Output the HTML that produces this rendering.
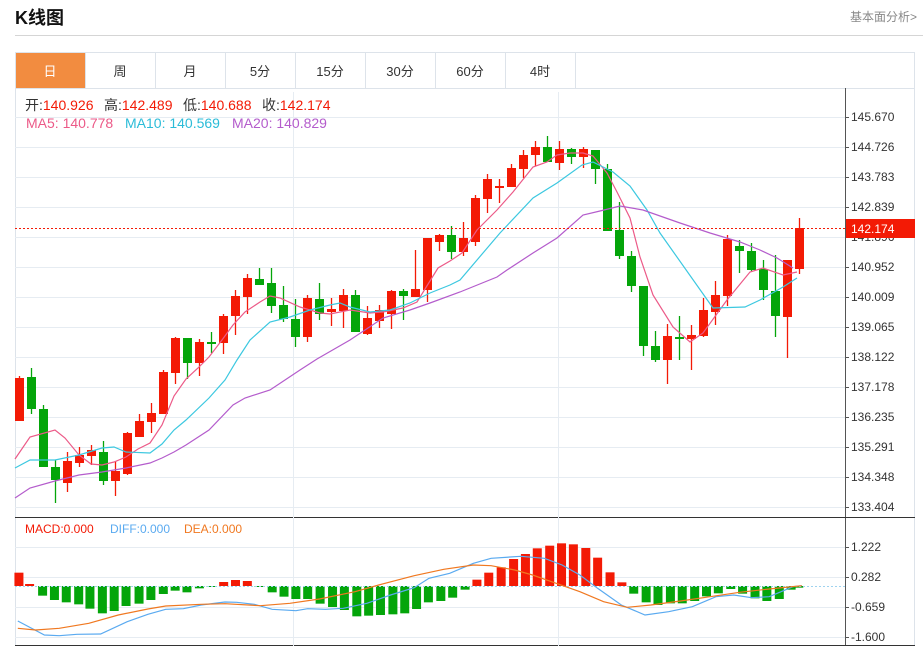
<!DOCTYPE html>
<html><head><meta charset="utf-8">
<style>
body{margin:0;background:#fff;font-family:"Liberation Sans","Noto Sans CJK SC",sans-serif;}
#w{position:relative;width:923px;height:648px;overflow:hidden;}
.t{position:absolute;white-space:nowrap;}
</style></head><body><div id="w">
<div class="t" style="left:15px;top:4px;font-size:18px;font-weight:bold;color:#111;">K线图</div>
<div class="t" style="right:6px;top:8px;font-size:12px;color:#888;">基本面分析&gt;</div>
<div style="position:absolute;left:15px;top:35px;width:908px;height:1px;background:#d5d5d5"></div>
<svg id="s" width="923" height="648" style="position:absolute;left:0;top:0"></svg>
</div>
<script>
var S=document.getElementById('s'),h='';
function L(x1,y1,x2,y2,c,w,d){h+='<line x1="'+x1+'" y1="'+y1+'" x2="'+x2+'" y2="'+y2+'" stroke="'+c+'" stroke-width="'+(w||1)+'"'+(d?' stroke-dasharray="'+d+'"':'')+'/>';}
function R(x,y,w,hh,c){h+='<rect x="'+x+'" y="'+y+'" width="'+w+'" height="'+hh+'" fill="'+c+'"/>';}
function T(x,y,s,c,sz,a){h+='<text x="'+x+'" y="'+y+'" fill="'+c+'" font-size="'+(sz||12)+'"'+(a?' text-anchor="'+a+'"':'')+'>'+s+'</text>';}
function P(pts,c,w){h+='<polyline fill="none" stroke="'+c+'" stroke-width="'+(w||1.2)+'" points="'+pts.map(function(p){return p[0]+','+p[1]}).join(' ')+'"/>';}
h+='<rect x="15.5" y="52.5" width="899" height="36" fill="#fff" stroke="#dde3ea"/>';
R(16,53,69,35,'#f28c40');
var tabs=['日','周','月','5分','15分','30分','60分','4时'];
for(var i=0;i<8;i++){var cx=50+70*i;T(cx,76,tabs[i],i?'#333':'#fff',13,'middle');if(i)L(15+70*i+0.5,53,15+70*i+0.5,88,'#dde3ea');}
L(575.5,53,575.5,88,'#dde3ea');
L(15.5,88,15.5,646,'#dde3ea');L(914.5,88,914.5,646,'#dde3ea');
L(845.5,88,845.5,646,'#555');
L(15,517.5,915,517.5,'#333');L(15,645.5,915,645.5,'#333');
var labs=['145.670','144.726','143.783','142.839','141.896','140.952','140.009','139.065','138.122','137.178','136.235','135.291','134.348','133.404'];
for(i=0;i<14;i++){var y=117+30*i;L(15,y+0.5,845,y+0.5,'#e6ecf2');L(845,y+0.5,849,y+0.5,'#555');T(851,y+4,labs[i],'#333',12);}
L(293.5,92,293.5,646,'#e6ecf2');L(558.5,92,558.5,646,'#e6ecf2');
[547,577,607,637].forEach(function(y,j){L(15,y+0.5,845,y+0.5,'#e6ecf2');L(845,y+0.5,849,y+0.5,'#555');T(851,y+4,['1.222','0.282','-0.659','-1.600'][j],'#333',12);});
var C=[['r',378,421,376,421],['g',377,409,368,414],['g',409,467,405,467],['g',467,480,460,503],['r',461,483,452,492],['r',455,463,447,467],['r',450,456,445,465],['g',452,481,441,485],['r',471,481,461,496],['r',433,474,432,475],['r',421,437,414,437],['r',413,422,403,433],['r',372,414,370,414],['r',338,373,337,384],['g',338,363,338,379],['r',342,363,339,376],['g',342,344,332,353],['r',316,343,314,354],['r',296,316,290,335],['r',278,297,274,314],['g',279,285,268,285],['g',283,306,268,313],['g',305,319,286,322],['g',319,337,299,347],['r',298,337,295,342],['g',299,314,283,320],['r',309,312,298,326],['r',295,311,289,328],['g',295,332,290,332],['r',318,334,306,335],['r',310,321,305,328],['r',291,314,290,329],['g',291,296,289,320],['r',289,297,250,297],['r',238,290,238,302],['r',235,242,234,251],['g',235,252,226,259],['r',238,252,222,256],['r',198,242,195,246],['r',179,199,174,213],['r',186,188,179,203],['r',168,187,164,187],['r',155,169,150,178],['r',147,155,141,166],['g',147,162,136,162],['r',149,163,141,170],['g',149,157,148,164],['r',149,157,147,168],['g',150,169,150,184],['g',169,231,164,231],['g',230,256,202,259],['g',256,286,251,292],['g',286,346,286,356],['g',346,360,331,362],['r',336,360,324,384],['g',337,339,316,360],['r',335,339,325,370],['r',310,336,298,337],['r',295,312,281,325],['r',239,296,235,306],['g',246,251,240,273],['g',251,270,243,271],['g',269,290,260,300],['g',291,316,255,337],['r',260,317,260,358],['r',228,269,218,274]];
C.forEach(function(c,i){var x=19+12*i,col=c[0]=='r'?'#f31a05':'#04a50a';L(x+0.5,c[3],x+0.5,c[4],col,1.3);R(x-4,c[1],9,Math.max(2,c[2]-c[1]),col);});
P([[15,459],[30,437],[55,430],[65,438],[79,455],[91,464],[102,465],[114,462],[126,457],[138,449],[150,443],[162,425],[174,396],[186,379],[198,368],[209,357],[222,340],[233,325],[245,312],[260,302],[270,296],[280,298],[300,307],[320,313],[330,314],[350,310],[370,313],[383,312],[403,308],[417,302],[438,268],[450,261],[462,253],[477,230],[497,210],[513,192],[533,167],[547,162],[557,155],[570,153],[583,153],[593,156],[607,173],[617,192],[630,218],[640,257],[653,295],[673,327],[690,342],[703,333],[727,300],[750,272],[763,268],[783,275],[797,272]],'#ec5a88');
P([[15,468],[30,460],[55,460],[79,455],[102,448],[114,447],[126,452],[150,453],[162,444],[174,430],[186,420],[209,398],[225,380],[237,360],[250,340],[270,322],[290,317],[310,310],[330,305],[340,303],[350,307],[370,312],[390,310],[410,303],[430,293],[450,285],[460,280],[500,233],[533,198],[557,183],[582,165],[593,162],[613,172],[630,186],[647,210],[660,233],[713,308],[745,307],[760,300],[783,287],[797,278]],'#3cc8e0');
P([[15,498],[30,488],[55,481],[79,475],[102,472],[126,468],[150,463],[162,458],[174,452],[186,445],[209,430],[233,405],[245,398],[270,390],[300,370],[317,359],[350,340],[383,318],[410,310],[430,303],[460,292],[497,277],[507,270],[533,253],[557,238],[583,215],[600,211],[620,206],[643,210],[680,223],[710,233],[740,242],[760,250],[777,258],[793,268]],'#b45ccc');
L(15,228.5,845,228.5,'#f31a05',1,'2,2');
R(846,219,69,19,'#f31a05');T(851,233,'142.174','#fff',12);
var B=[[32,173],[50,207],[72,242],[92,255],[112,262],[133,268],[152,281],[173,295],[193,288],[213,273],[235,266],[255,255],[276,237],[296,227],[316,232],[337,220],[357,215],[378,201],[398,195],[418,198],[438,214],[460,232],[480,245],[500,252],[520,252],[541,266],[562,276],[582,285],[603,304],[623,302],[643,300],[664,298],[684,295],[704,282],[724,262],[745,258],[765,248],[786,224],[806,194],[826,173],[847,157],[868,132],[888,117],[908,100],[929,92],[949,85],[969,88],[990,99],[1010,128],[1031,172],[1051,202],[1071,236],[1092,262],[1112,270],[1133,265],[1153,265],[1174,258],[1194,244],[1214,235],[1235,222],[1255,236],[1276,250],[1296,258],[1317,252],[1337,224],[1350,218]];
var z=586;
B.forEach(function(b){var x=b[0]/1.69,y=515+b[1]/3;if(y<z)R(x-4.5,y,9,z-y,'#f31a05');else R(x-4.5,z,9,Math.max(1,y-z),'#04a50a');});
L(15,586.5,845,586.5,'#9fd3ef',1,'2,2');
function M(a){return a.map(function(p){return [(p[0]/1.69).toFixed(1),(515+p[1]/3).toFixed(1)]});}
P(M([[30,318],[75,360],[100,362],[130,358],[170,357],[215,320],[250,298],[280,283],[310,281],[340,270],[380,261],[400,262],[430,268],[460,283],[500,287],[520,281],[550,283],[580,280],[620,265],[660,240],[700,218],[725,190],[760,175],[800,145],[830,130],[880,124],[920,130],[950,150],[980,180],[1010,220],[1050,270],[1090,300],[1130,290],[1170,275],[1210,245],[1240,240],[1270,248],[1300,245],[1320,230],[1340,215],[1355,212]]),'#5aaaf0');
P(M([[30,340],[60,345],[100,340],[150,325],[200,300],[250,282],[280,273],[340,268],[380,266],[440,272],[490,265],[540,252],[600,230],[640,210],[700,182],[750,163],[800,150],[830,152],[870,165],[900,180],[940,205],[980,230],[1020,260],[1060,277],[1100,270],[1150,258],[1200,245],[1250,232],[1300,222],[1355,212]]),'#f07820');
// legends
h+='<text x="25" y="110" font-size="14" fill="#333">开:<tspan fill="#f31a05">140.926</tspan></text>';
h+='<text x="104" y="110" font-size="14" fill="#333">高:<tspan fill="#f31a05">142.489</tspan></text>';
h+='<text x="183" y="110" font-size="14" fill="#333">低:<tspan fill="#f31a05">140.688</tspan></text>';
h+='<text x="262" y="110" font-size="14" fill="#333">收:<tspan fill="#f31a05">142.174</tspan></text>';
T(26,128,'MA5: 140.778','#ec5a88',14);
T(125,128,'MA10: 140.569','#2bbcd8',14);
T(232,128,'MA20: 140.829','#b45ccc',14);
T(25,533,'MACD:0.000','#f31a05',12);
T(110,533,'DIFF:0.000','#5aaaf0',12);
T(184,533,'DEA:0.000','#f07820',12);
S.innerHTML=h;
</script>
</body></html>
